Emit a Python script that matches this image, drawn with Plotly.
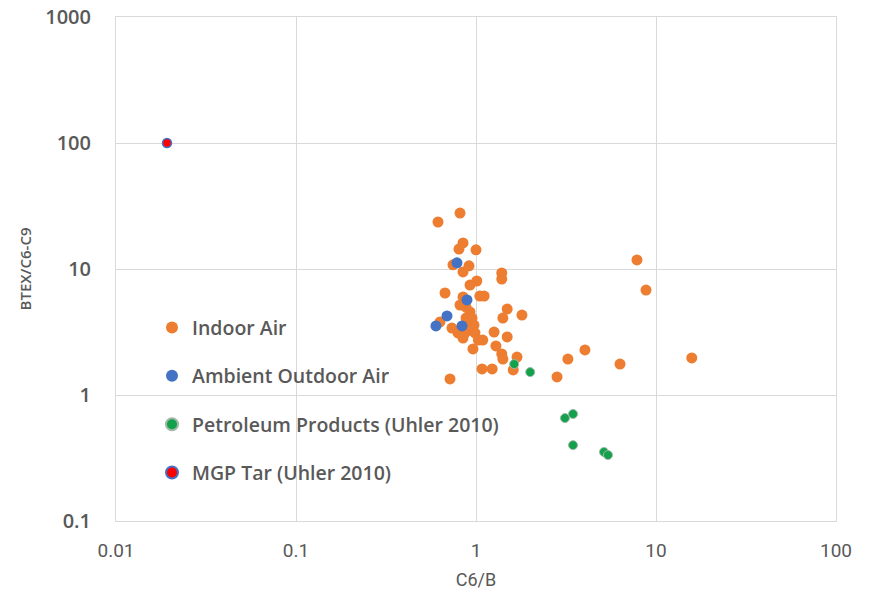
import plotly.graph_objects as go

# C6/B vs BTEX/C6-C9 ratios by sample type
indoor_x = [0.615, 0.815, 0.847, 0.804, 1.00, 0.745, 0.914, 0.847, 1.39, 1.39,
            1.01, 0.926, 0.673, 0.847, 1.05, 1.11, 1.49, 1.80, 1.41, 0.880,
            0.926, 0.880, 0.950, 0.903, 0.975, 0.926, 0.869, 0.987, 0.735, 0.794,
            0.847, 0.631, 0.962, 1.03, 1.26, 1.49, 1.09, 1.29, 1.39, 1.41,
            1.69, 1.61, 1.08, 1.23, 0.717, 2.82, 3.24, 4.03, 6.31, 15.8,
            7.84, 8.80, 0.815]
indoor_y = [23.6, 27.8, 16.1, 14.4, 14.2, 10.8, 10.6, 9.47, 9.30, 8.33,
            8.03, 7.46, 6.45, 6.00, 6.10, 6.10, 4.81, 4.31, 4.08, 4.99,
            4.56, 4.08, 4.08, 3.80, 3.59, 3.28, 3.11, 3.11, 3.40, 3.11,
            2.83, 3.80, 2.32, 2.73, 3.16, 2.89, 2.73, 2.45, 2.12, 1.93,
            2.00, 1.58, 1.61, 1.61, 1.34, 1.39, 1.93, 2.28, 1.76, 1.97,
            11.8, 6.81, 5.18]

outdoor_x = [0.784, 0.891, 0.690, 0.599, 0.836]
outdoor_y = [11.2, 5.68, 4.24, 3.53, 3.53]

petro_x = [1.63, 2.00, 3.12, 3.46, 3.46, 5.14, 5.41]
petro_y = [1.76, 1.52, 0.656, 0.707, 0.400, 0.353, 0.334]

tar_x = [0.0192]
tar_y = [100]

x_ticks = [0.01, 0.1, 1, 10, 100]
x_tick_text = ["0.01", "0.1", "1", "10", "100"]
y_ticks = [0.1, 1, 10, 100, 1000]
y_tick_text = ["0.1", "1", "10", "100", "1000"]

GRID = "#d9d9d9"
TEXT = "#595959"

fig = go.Figure()

fig.add_trace(go.Scatter(
    x=indoor_x, y=indoor_y, mode="markers", name="Indoor Air", legendgroup="a",
    marker=dict(color="#ED7D31", size=11, line=dict(width=0)),
))
fig.add_trace(go.Scatter(
    x=outdoor_x, y=outdoor_y, mode="markers", name="Ambient Outdoor Air", legendgroup="b",
    marker=dict(color="#4472C4", size=11, line=dict(width=0)),
))
fig.add_trace(go.Scatter(
    x=petro_x, y=petro_y, mode="markers", name="Petroleum Products (Uhler 2010)", legendgroup="c",
    marker=dict(color="#13A14B", size=9, line=dict(width=1, color="#9fb8a8")),
))
fig.add_trace(go.Scatter(
    x=tar_x, y=tar_y, mode="markers", name="MGP Tar (Uhler 2010)", legendgroup="d",
    marker=dict(color="#FF0000", size=9, line=dict(width=1.5, color="#4472C4")),
))

fig.update_layout(
    width=870, height=595,
    margin=dict(l=116, r=34, t=17, b=74),
    paper_bgcolor="white", plot_bgcolor="white",
    font=dict(family="Open Sans, sans-serif", color=TEXT),
    legend=dict(
        x=0.05, y=0.422, xanchor="left", yanchor="top",
        bgcolor="rgba(0,0,0,0)",
        font=dict(size=19.5, color=TEXT, weight=600),
        traceorder="grouped", tracegroupgap=20,
        itemsizing="constant",
    ),
    xaxis=dict(
        type="log", range=[-2, 2], automargin=False,
        tickvals=x_ticks, ticktext=x_tick_text,
        showgrid=True, gridcolor=GRID, gridwidth=1,
        showline=True, linecolor=GRID, linewidth=1, mirror=True,
        ticks="", ticklabelstandoff=12, zeroline=False,
        tickfont=dict(family="Roboto, sans-serif", size=19, color=TEXT),
        title=dict(text="C6/B", font=dict(family="Roboto, sans-serif", size=18, color=TEXT),
                   standoff=12),
    ),
    yaxis=dict(
        type="log", range=[-1, 3], automargin=False,
        tickvals=y_ticks, ticktext=y_tick_text,
        showgrid=True, gridcolor=GRID, gridwidth=1,
        showline=True, linecolor=GRID, linewidth=1, mirror=True,
        ticks="", ticklabelstandoff=20, zeroline=False,
        tickfont=dict(size=20, color=TEXT, weight=600),
        title=dict(text="BTEX/C6-C9", font=dict(size=15, color=TEXT, weight=600),
                   standoff=10),
    ),
)

fig.write_html("out.html")
